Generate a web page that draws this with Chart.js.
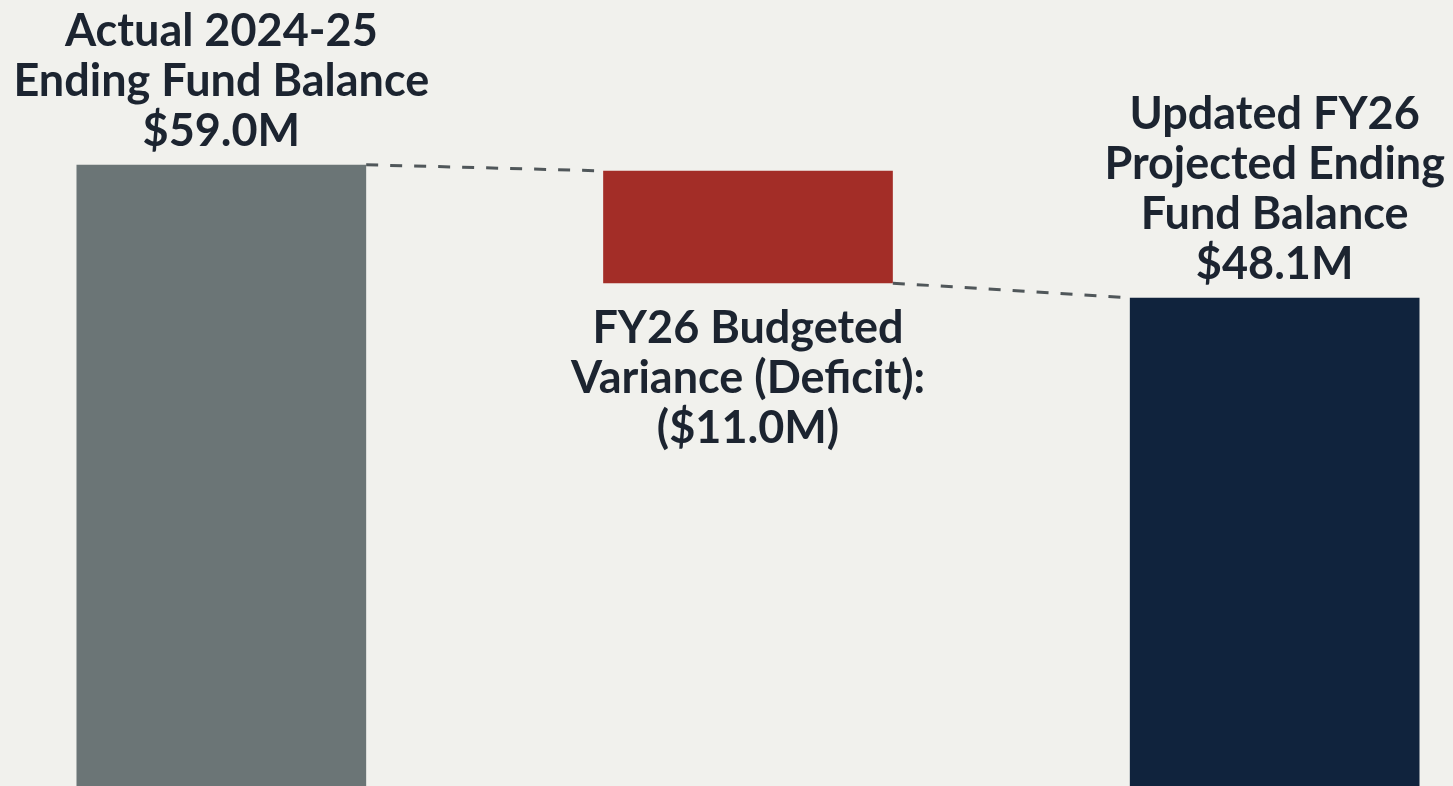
<!DOCTYPE html>
<html>
<head>
<meta charset="utf-8">
<script src="https://cdn.jsdelivr.net/npm/chart.js@4"></script>
<style>
    html, body { margin: 0; padding: 0; background: #f1f1ed; overflow: hidden; }
    #wrap { position: absolute; left: -42px; top: 0; width: 1580px; height: 786px; }
</style>
</head>
<body>
<div id="wrap"><canvas id="chart" width="1580" height="786"></canvas></div>
<script>
const categories = ["Actual 2024-25", "FY26 Budgeted Variance", "Updated FY26"];
const barStart = [0, 49.3, 0];
const barEnd = [59.0, 58.5, 48.1];
const barColors = ["#6b7576", "#a32d27", "#10233d"];
const labelLines = [
    ["Actual 2024-25", "Ending Fund Balance", "$59.0M"],
    ["FY26 Budgeted", "Variance (Deficit):", "($11.0M)"],
    ["Updated FY26", "Projected Ending", "Fund Balance", "$48.1M"]
];
const labelBelow = [false, true, false];

const lineHeight = 50;

// dashed connectors between bar corners
const connectorPlugin = {
    id: "connectors",
    afterDatasetsDraw(chart) {
        const bars = chart.getDatasetMeta(0).data;
        const ctx = chart.ctx;
        const half = (b) => b.width / 2;
        ctx.save();
        ctx.strokeStyle = "#50575a";
        ctx.lineWidth = 3;
        ctx.setLineDash([12, 12]);
        ctx.beginPath();
        ctx.moveTo(bars[0].x + half(bars[0]), bars[0].y);
        ctx.lineTo(bars[1].x - half(bars[1]), bars[1].y);
        ctx.moveTo(bars[1].x + half(bars[1]), bars[1].base);
        ctx.lineTo(bars[2].x - half(bars[2]), bars[2].y);
        ctx.stroke();
        ctx.restore();
    }
};

const labelPlugin = {
    id: "barLabels",
    afterDatasetsDraw(chart) {
        const bars = chart.getDatasetMeta(0).data;
        const ctx = chart.ctx;
        ctx.save();
        ctx.fillStyle = "#1c2430";
        ctx.textAlign = "center";
        ctx.textBaseline = "alphabetic";
        ctx.font = "bold 45px Lato";
        bars.forEach((bar, i) => {
            const lines = labelLines[i];
            let y;
            if (labelBelow[i]) {
                y = Math.max(bar.y, bar.base) + 60;
            } else {
                y = bar.y - 19 - (lines.length - 1) * lineHeight;
            }
            lines.forEach((line, k) => ctx.fillText(line, bar.x, y + k * lineHeight));
        });
        ctx.restore();
    }
};

new Chart(document.getElementById("chart"), {
    type: "bar",
    data: {
        labels: categories,
        datasets: [{
            data: categories.map((_, i) => [barStart[i], barEnd[i]]),
            backgroundColor: barColors,
            borderWidth: 0,
            barPercentage: 0.55,
            categoryPercentage: 1
        }]
    },
    options: {
        responsive: false,
        animation: false,
        devicePixelRatio: 1,
        layout: { padding: 0 },
        plugins: { legend: { display: false }, tooltip: { enabled: false } },
        scales: {
            x: { display: false },
            y: { display: false, min: 8.1, max: 72.5 }
        }
    },
    plugins: [connectorPlugin, labelPlugin]
});
</script>
</body>
</html>
